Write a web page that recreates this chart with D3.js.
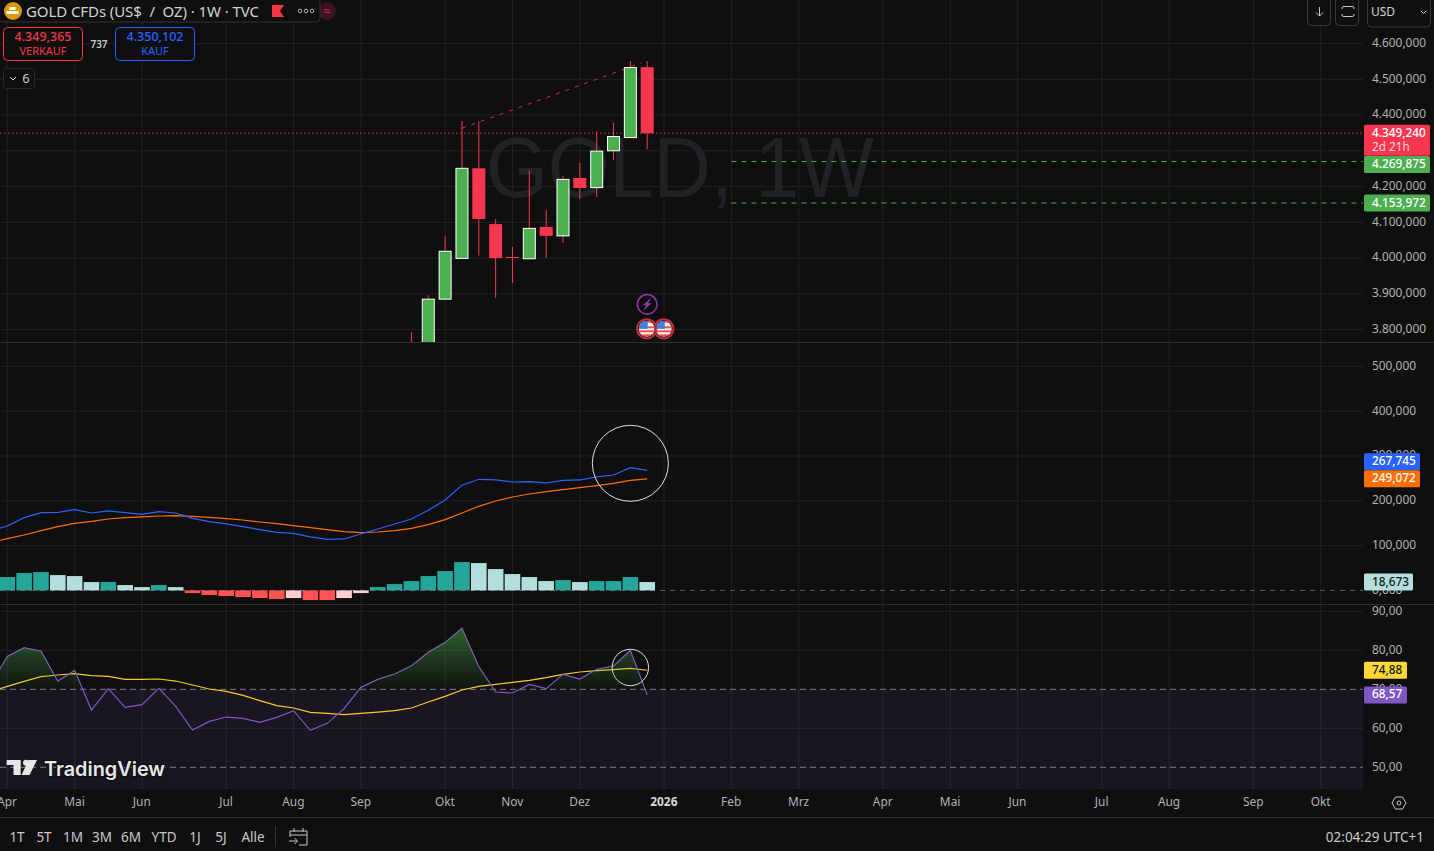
<!DOCTYPE html>
<html>
<head>
<meta charset="utf-8">
<title>GOLD CFDs</title>
<script src="https://cdn.jsdelivr.net/npm/d3@7"></script>
<style>
  html, body { margin:0; padding:0; background:#0f0f0f; overflow:hidden; }
  svg { display:block; }
  text { font-family:"Noto Sans","Open Sans",sans-serif; }
  .axis path, .axis line { display:none; }
  .axis text { fill:#b2b2b2; font-size:11.9px; font-family:"Noto Sans","Open Sans",sans-serif; }
</style>
</head>
<body>
<div id="chart"></div>
<script>
// weekly candles, price in thousands. last candle is index 0, older ones negative
const candleFirstIdx = -14;
const candleOpen  = [3700, 3750, 3885, 3999, 4251, 4095, 4003, 3998, 4087, 4062, 4224, 4197, 4300, 4337, 4534];
const candleHigh  = [3793, 3896, 4062, 4383, 4383, 4109, 4031, 4246, 4134, 4229, 4266, 4355, 4378, 4551, 4551];
const candleLow   = [3650, 3740, 3885, 3999, 4007, 3888, 3930, 3998, 4000, 4042, 4165, 4171, 4274, 4337, 4305];
const candleClose = [3750, 3885, 4019, 4251, 4109, 4000, 4000, 4083, 4062, 4220, 4196, 4299, 4340, 4533, 4349.24];

const trendIdx = [-11, -0.33];
const trendPrice = [4363, 4546];

// MACD pane, index -39..0
const lineFirstIdx = -39;
const macdLine = [132.6, 143.8, 162.4, 173.6, 174.3, 180.3, 172.8, 177.3, 173.6, 169.9, 175.8, 172.8, 160.9, 153.5, 148.3, 142.3, 135.6, 129.7, 127.4, 119.3, 114, 114.8, 126, 137.1, 148.3, 159.4, 178.8, 201.8, 234.6, 248, 246.5, 242, 242.8, 239.8, 245.7, 246.5, 253.2, 257.6, 274, 267.745];
const macdSignal = [107.3, 115.5, 123.7, 133.4, 142.3, 149.8, 154.2, 159.4, 162.4, 163.9, 166.1, 166.9, 165.4, 163.2, 160.2, 157.2, 152.7, 149, 144.6, 140.1, 135.6, 131.2, 128.9, 130.4, 133.4, 138.6, 146.8, 158, 172.8, 187.7, 199.6, 208.5, 215.2, 220.4, 224.9, 229.4, 233.8, 239, 245.7, 249.072];
// histogram, index -38..0
const histFirstIdx = -38;
const macdHist = [29.8, 38.7, 40.9, 34.2, 32, 18.6, 18.6, 11.9, 7.4, 11.9, 7.4, -6, -10.4, -12.6, -14.9, -17.1, -19.3, -17.1, -21.6, -21.6, -17.1, -6, 7.4, 14.1, 20.8, 32, 43.2, 63.2, 61, 47.6, 36.5, 29.8, 20.8, 23, 18.6, 20.8, 20.8, 29.8, 18.673];

// RSI pane, index -39..0
const rsiLine = [71, 78.45, 80.67, 79.82, 72.12, 74.86, 64.69, 70.16, 65.37, 66.06, 70.24, 65.63, 59.56, 61.78, 62.89, 62.55, 61.53, 62.81, 64.52, 59.48, 61.27, 65.03, 70.5, 72.55, 73.92, 76.06, 79.48, 82.04, 85.63, 75.8, 69.3, 69.05, 71.27, 70.16, 73.83, 72.64, 75.12, 75.97, 79.99, 68.57];
const rsiMa = [69.39, 70.76, 72.04, 73.24, 73.66, 74, 73.49, 73.32, 72.55, 72.55, 72.64, 72.12, 71.1, 70.07, 69.48, 68.45, 67.08, 65.8, 65.2, 64.09, 63.83, 63.49, 63.83, 64.17, 64.52, 65.2, 66.74, 68.19, 69.82, 70.76, 71.27, 71.78, 72.3, 72.98, 73.83, 74.43, 74.77, 75.03, 75.37, 74.88];

// axis ticks
const priceTicks = [4600, 4500, 4400, 4300, 4200, 4100, 4000, 3900, 3800];
const macdTicks = [500, 400, 300, 200, 100, 0];
const rsiTicks = [90, 80, 70, 60, 50];
const timeIdx = [-38, -34, -30, -25, -21, -17, -12, -8, -4, 1, 5, 9, 14, 18, 22, 27, 31, 36, 40];
const timeLabels = ['Apr','Mai','Jun','Jul','Aug','Sep','Okt','Nov','Dez','2026','Feb','Mrz','Apr','Mai','Jun','Jul','Aug','Sep','Okt'];
const rangeLabels = ['1T','5T','1M','3M','6M','YTD','1J','5J','Alle'];

const lastPrice = 4349.24;
const supportLevels = [4269.875, 4153.972];
const supportStartIdx = 5;

const W = 1434, H = 851, plotW = 1363;
const GRID = '#212121', RED = '#f7374f', GREEN = '#4caf50', BLUE = '#2962ff';

const de = d3.formatLocale({decimal:',', thousands:'.', grouping:[3], currency:['','']});
const f3 = de.format(',.3f'), f2 = de.format('.2f');

const svg = d3.select('#chart').append('svg').attr('width', W).attr('height', H);
const defs = svg.append('defs');

function clip(id, x, y, w, h) {
  defs.append('clipPath').attr('id', id).append('rect').attr('x',x).attr('y',y).attr('width',w).attr('height',h);
}
clip('mainClip', 0, 0, plotW, 342);
clip('macdClip', 0, 343, plotW, 261);
clip('rsiClip', 0, 605, plotW, 184);
clip('aboveClip', 0, 605, plotW, 84.3);

const grad = defs.append('linearGradient').attr('id','rsiGrad').attr('x1',0).attr('x2',0)
  .attr('gradientUnits','userSpaceOnUse').attr('y1',628).attr('y2',689.3);
grad.append('stop').attr('offset',0).attr('stop-color','#4caf50').attr('stop-opacity',0.5);
grad.append('stop').attr('offset',1).attr('stop-color','#4caf50').attr('stop-opacity',0.02);

// scales
const x = d3.scaleLinear().domain([0, 1]).range([647.2, 664.04]);
const yPrice = d3.scaleLinear().domain([3800, 4500]).range([329.55, 79.3]);
const yMacd = d3.scaleLinear().domain([0, 300]).range([590.4, 456]);
const yRsi = d3.scaleLinear().domain([50, 70]).range([767.3, 689.3]);
const barW = 13, histW = 15.6;

// vertical grid
svg.append('g').selectAll('line').data(timeIdx).enter().append('line')
  .attr('x1', d=>x(d)).attr('x2', d=>x(d)).attr('y1', 0).attr('y2', 789)
  .attr('stroke', GRID);

// horizontal grid
function hgrid(ticks, y, clipId) {
  svg.append('g').attr('clip-path', `url(#${clipId})`).selectAll('line').data(ticks).enter().append('line')
    .attr('x1', 0).attr('x2', plotW).attr('y1', d=>y(d)).attr('y2', d=>y(d))
    .attr('stroke', GRID);
}
hgrid(priceTicks, yPrice, 'mainClip');
hgrid(macdTicks.filter(d=>d), yMacd, 'macdClip');
hgrid(rsiTicks.filter(d=>d!=70 && d!=50), yRsi, 'rsiClip');

// watermark
svg.append('text').attr('x', 486).attr('y', 197)
  .attr('font-size', 86).attr('textLength', 388).attr('lengthAdjust','spacingAndGlyphs')
  .attr('fill', '#212226').style('font-family','"Liberation Sans",sans-serif').text('GOLD, 1W');

// main pane
const main = svg.append('g').attr('clip-path','url(#mainClip)');
const candles = d3.range(candleOpen.length);
main.append('line')
  .attr('x1', 0).attr('x2', plotW).attr('y1', yPrice(lastPrice)).attr('y2', yPrice(lastPrice))
  .attr('stroke', RED).attr('stroke-dasharray','1.5 2.5').attr('opacity',0.9);
main.selectAll('.lvl').data(supportLevels).enter().append('line').attr('class','lvl')
  .attr('x1', x(supportStartIdx)).attr('x2', plotW).attr('y1', d=>yPrice(d)).attr('y2', d=>yPrice(d))
  .attr('stroke', GREEN).attr('stroke-dasharray','5 5');
main.append('line')
  .attr('x1', x(trendIdx[0])).attr('x2', x(trendIdx[1]))
  .attr('y1', yPrice(trendPrice[0])).attr('y2', yPrice(trendPrice[1]))
  .attr('stroke', '#d42d44').attr('stroke-dasharray','4 6');
main.selectAll('.wick').data(candles).enter().append('line').attr('class','wick')
  .attr('x1', i=>x(candleFirstIdx+i)).attr('x2', i=>x(candleFirstIdx+i))
  .attr('y1', i=>yPrice(candleHigh[i])).attr('y2', i=>yPrice(candleLow[i]))
  .attr('stroke', RED);
main.selectAll('.body').data(candles).enter().append('rect').attr('class','body')
  .attr('x', i=>x(candleFirstIdx+i)-barW/2+(candleClose[i]>=candleOpen[i]?0.5:0))
  .attr('width', i=>candleClose[i]>=candleOpen[i]?barW-1:barW)
  .attr('y', i=>yPrice(Math.max(candleOpen[i],candleClose[i])))
  .attr('height', i=>Math.max(1, Math.abs(yPrice(candleOpen[i])-yPrice(candleClose[i]))))
  .attr('fill', i=>candleClose[i]>=candleOpen[i]?GREEN:RED)
  .attr('stroke', i=>candleClose[i]>=candleOpen[i]?'#fff':'none');

// MACD pane
const macd = svg.append('g').attr('clip-path','url(#macdClip)');
macd.append('line').attr('x1',0).attr('x2',plotW).attr('y1',yMacd(0)).attr('y2',yMacd(0))
  .attr('stroke','#5d606b').attr('stroke-dasharray','5 5');
macd.selectAll('.hist').data(macdHist).enter().append('rect').attr('class','hist')
  .attr('x', (d,i)=>x(histFirstIdx+i)-histW/2)
  .attr('width', histW)
  .attr('y', d=>yMacd(Math.max(d,0)))
  .attr('height', d=>Math.abs(yMacd(d)-yMacd(0)))
  .attr('fill', (d,i)=>{
    const prev = i ? macdHist[i-1] : d;
    if (d >= 0) return d >= prev ? '#26a69a' : '#b2dfdb';
    return d <= prev ? '#ff5252' : '#ffcdd2';
  });
const macdPath = d3.line().x((d,i)=>x(lineFirstIdx+i)).y(d=>yMacd(d));
macd.append('path').attr('d', macdPath(macdSignal)).attr('fill','none').attr('stroke','#ff6d00').attr('stroke-width',1.2);
macd.append('path').attr('d', macdPath(macdLine)).attr('fill','none').attr('stroke',BLUE).attr('stroke-width',1.2);
macd.append('circle').attr('cx',x(-1)).attr('cy',yMacd(283.7)).attr('r',38)
  .attr('fill','none').attr('stroke','#e0e0e0').attr('stroke-width',1);

// RSI pane
const rsi = svg.append('g').attr('clip-path','url(#rsiClip)');
rsi.append('rect').attr('x',0).attr('width',plotW).attr('y',yRsi(70)).attr('height',yRsi(30)-yRsi(70))
  .attr('fill','#7e57c2').attr('opacity',0.1);
rsi.selectAll('.band').data([70,50]).enter().append('line').attr('class','band')
  .attr('x1',0).attr('x2',plotW).attr('y1',d=>yRsi(d)).attr('y2',d=>yRsi(d))
  .attr('stroke','#787b86').attr('stroke-dasharray','6 4');
const rsiArea = d3.area().x((d,i)=>x(lineFirstIdx+i)).y0(yRsi(70)).y1(d=>yRsi(d));
svg.append('path').attr('clip-path','url(#aboveClip)').attr('d', rsiArea(rsiLine)).attr('fill','url(#rsiGrad)');
const rsiPath = d3.line().x((d,i)=>x(lineFirstIdx+i)).y(d=>yRsi(d));
rsi.append('path').attr('d', rsiPath(rsiMa)).attr('fill','none').attr('stroke','#f9c825').attr('stroke-width',1.2);
rsi.append('path').attr('d', rsiPath(rsiLine)).attr('fill','none').attr('stroke','#7e57c2').attr('stroke-width',1.2);
rsi.append('circle').attr('cx',x(-1)).attr('cy',yRsi(75.6)).attr('r',18.2)
  .attr('fill','none').attr('stroke','#e0e0e0').attr('stroke-width',1);

// pane separators
[342.5, 604.5, 817.5].forEach(yy=>{
  svg.append('line').attr('x1',0).attr('x2',W).attr('y1',yy).attr('y2',yy).attr('stroke','#2e2e2e');
});

// axes
function priceAxis(y, ticks, fmt) {
  return svg.append('g').attr('class','axis').attr('transform',`translate(${plotW},-1)`)
    .call(d3.axisRight(y).tickValues(ticks).tickFormat(fmt).tickSize(0).tickPadding(9));
}
priceAxis(yPrice, priceTicks, f3);
priceAxis(yMacd, macdTicks, f3);
priceAxis(yRsi, rsiTicks, f2);
const tAxis = svg.append('g').attr('class','axis').attr('transform','translate(-0.7,789)')
  .call(d3.axisBottom(x).tickValues(timeIdx).tickFormat((d,i)=>timeLabels[i]).tickSize(0).tickPadding(9));
tAxis.selectAll('text').filter(d=>d===1).attr('font-weight','bold').style('fill','#d8d8d8');

// value tags on the right
function tag(cy, w, fill, txt, txtColor) {
  svg.append('rect').attr('x',1364).attr('y',cy-8.5).attr('width',w).attr('height',17).attr('rx',1.5).attr('fill',fill);
  svg.append('text').attr('x',1372).attr('y',cy+3.6).attr('font-size',11.8).attr('font-weight',500).attr('fill',txtColor).text(txt);
}
svg.append('rect').attr('x',1364).attr('y',yPrice(lastPrice)-8.5).attr('width',66).attr('height',31).attr('rx',1.5).attr('fill',RED);
svg.append('text').attr('x',1372).attr('y',yPrice(lastPrice)+3.6).attr('font-size',11.8).attr('font-weight',500).attr('fill','#fff').text(f3(lastPrice));
svg.append('text').attr('x',1372).attr('y',yPrice(lastPrice)+17.5).attr('font-size',11.8).attr('fill','#ffd5da').text('2d 21h');
tag(yPrice(supportLevels[0])+3, 66, GREEN, f3(supportLevels[0]), '#fff');
tag(yPrice(supportLevels[1]), 66, GREEN, f3(supportLevels[1]), '#fff');
tag(yMacd(macdLine[39])-8.7, 56, BLUE, f3(macdLine[39]), '#fff');
tag(yMacd(macdSignal[39]), 56, '#ff6d00', f3(macdSignal[39]), '#fff');
tag(yMacd(macdHist[38]), 49, '#b2dfdb', f3(macdHist[38]), '#131722');
tag(yRsi(rsiMa[39]), 43, '#fdd835', f2(rsiMa[39]), '#131722');
tag(yRsi(rsiLine[39]), 43, '#7e57c2', f2(rsiLine[39]), '#fff');

// event markers
function flag(cx, cy) {
  const g = svg.append('g').attr('transform',`translate(${cx},${cy})`);
  const id = 'flag'+Math.round(cx);
  defs.append('clipPath').attr('id',id).append('circle').attr('r',8);
  g.append('circle').attr('r',9.6).attr('fill','#0f0f0f').attr('stroke','#c92c3c').attr('stroke-width',2);
  const f = g.append('g').attr('clip-path',`url(#${id})`);
  f.append('rect').attr('x',-8).attr('y',-8).attr('width',16).attr('height',16).attr('fill','#f4f4f4');
  [-2.5,1.5,5.5].forEach(s=>f.append('rect').attr('x',-8).attr('y',s).attr('width',16).attr('height',2).attr('fill','#ef5350'));
  f.append('rect').attr('x',-8).attr('y',-8).attr('width',16).attr('height',2).attr('fill','#ef5350');
  f.append('rect').attr('x',-8).attr('y',-8).attr('width',9).attr('height',8).attr('fill','#3d7fe0');
}
const bolt = svg.append('g').attr('transform',`translate(${x(0)},304.3)`);
bolt.append('circle').attr('r',9.8).attr('fill','#0f0f0f').attr('stroke','#8e35a8').attr('stroke-width',1.6);
bolt.append('path').attr('d','M4,-6.5 L-4.5,1 L-1,1 L-4,6.5 L4.5,-1 L1,-1 Z').attr('fill','#8e35a8');
flag(663.8, 328.8);
flag(646.7, 328.8);

// legend bar, top left
svg.append('circle').attr('cx',327).attr('cy',11).attr('r',9).attr('fill','#3a1422');
svg.append('text').attr('x',327).attr('y',16).attr('text-anchor','middle').attr('font-size',14).attr('fill','#d81b60').text('≈');
svg.append('rect').attr('x',-2).attr('y',-2).attr('width',322).attr('height',24).attr('rx',4)
  .attr('fill','#0f0f0f').attr('stroke','#333');
svg.append('circle').attr('cx',13).attr('cy',11).attr('r',9).attr('fill','#d99a00');
[[9.5,7,5],[6.5,11,5],[12.5,11,5]].forEach(b=>{
  svg.append('rect').attr('x',b[0]).attr('y',b[1]).attr('width',b[2]+1).attr('height',3).attr('fill','#fff');
});
svg.append('text').attr('x',26).attr('y',17).attr('font-size',15).attr('textLength',233).attr('lengthAdjust','spacing')
  .attr('fill','#d1d1d1').text('GOLD CFDs (US$\u00a0 /\u00a0 OZ) · 1W · TVC');
svg.append('path').attr('d','M272,5 H284 L280,11 L284,17 H272 Z').attr('fill','#f23645');
[300,306,312].forEach(cx=>svg.append('circle').attr('cx',cx).attr('cy',11).attr('r',1.8).attr('fill','none').attr('stroke','#b2b2b2'));

// buy and sell boxes
function tradeBox(bx, color, price, label) {
  svg.append('rect').attr('x',bx+0.5).attr('y',27.5).attr('width',79).attr('height',33).attr('rx',4)
    .attr('fill','#0f0f0f').attr('stroke',color);
  svg.append('text').attr('x',bx+40).attr('y',41).attr('text-anchor','middle').attr('font-size',12.5).attr('font-weight',500).attr('fill',color).text(price);
  svg.append('text').attr('x',bx+40).attr('y',55).attr('text-anchor','middle').attr('font-size',11).attr('fill',color).text(label);
}
tradeBox(3, RED, '4.349,365', 'VERKAUF');
svg.append('text').attr('x',99).attr('y',48).attr('text-anchor','middle').attr('font-size',10).attr('font-weight',600).attr('fill','#c8c8c8').text('737');
tradeBox(115, BLUE, '4.350,102', 'KAUF');
svg.append('rect').attr('x',3.5).attr('y',68.5).attr('width',31).attr('height',20).attr('rx',3).attr('fill','#0f0f0f').attr('stroke','#2a2a2a');
svg.append('path').attr('d','M10,77 L13,80 L16,77').attr('fill','none').attr('stroke','#c8c8c8');
svg.append('text').attr('x',26).attr('y',83).attr('text-anchor','middle').attr('font-size',13).attr('fill','#c8c8c8').text('6');

// top right buttons
function topBtn(bx, w, h) {
  svg.append('rect').attr('x',bx).attr('y',-3).attr('width',w).attr('height',h+3).attr('rx',4).attr('fill','#0f0f0f').attr('stroke','#3a3a3a');
}
topBtn(1307.5, 23, 25.5);
svg.append('path').attr('d','M1319.5,7 V16 M1316,12.5 L1319.5,16 L1323,12.5').attr('fill','none').attr('stroke','#c8c8c8');
topBtn(1335.5, 23, 25.5);
svg.append('path').attr('d','M1342,9 V8 Q1342,6.5 1344,6.5 H1352 Q1354,6.5 1354,8 V9 M1342,14 V15 Q1342,16.5 1344,16.5 H1352 Q1354,16.5 1354,15 V14').attr('fill','none').attr('stroke','#c8c8c8');
topBtn(1367.5, 63, 27);
svg.append('text').attr('x',1371).attr('y',16).attr('font-size',12).attr('fill','#d1d4dc').text('USD');
svg.append('path').attr('d','M1421,11 L1423.5,13.5 L1426,11').attr('fill','none').attr('stroke','#c8c8c8');

// TradingView logo
const logo = svg.append('g').attr('fill','#e6e6e6');
logo.append('path').attr('d','M6.7,760 H20.7 V775 H13.5 V765 H6.7 Z');
logo.append('circle').attr('cx',26).attr('cy',762.8).attr('r',3);
logo.append('path').attr('d','M28.5,760 H37 L29.5,775 H21.5 Z');
svg.append('text').attr('x',44).attr('y',775.5).attr('font-size',20).attr('font-weight',600)
  .attr('textLength',121).attr('lengthAdjust','spacingAndGlyphs')
  .attr('fill','#e6e6e6').attr('stroke','#0f0f0f').attr('stroke-width',2.5).attr('paint-order','stroke')
  .style('font-family','Inter,"Noto Sans",sans-serif').text('TradingView');

// settings hex
svg.append('path').attr('d','M1392,803 L1395.5,797 H1402.5 L1406,803 L1402.5,809 H1395.5 Z').attr('fill','none').attr('stroke','#c8c8c8');
svg.append('circle').attr('cx',1399).attr('cy',803).attr('r',2).attr('fill','none').attr('stroke','#c8c8c8');

// bottom toolbar
const rangeX = d3.scaleOrdinal().domain(rangeLabels).range([17,44,73,102,131,164,195,221,253]);
svg.append('g').selectAll('text').data(rangeLabels).enter().append('text')
  .attr('x', d=>rangeX(d)).attr('y', 842).attr('text-anchor','middle').attr('font-size',13.5).attr('fill','#c8c8c8').text(d=>d);
svg.append('line').attr('x1',275.5).attr('x2',275.5).attr('y1',826).attr('y2',847).attr('stroke','#333');
svg.append('path').attr('d','M290,831 H307 V845 H299 M290,831 V837 M290,835 H307 M294,828 V832 M303,828 V832 M289,841 H297 M294.5,838 L297.5,841 L294.5,844')
  .attr('fill','none').attr('stroke','#c8c8c8');
svg.append('text').attr('x',1424).attr('y',842).attr('text-anchor','end').attr('font-size',13.5).attr('fill','#c8c8c8').text('02:04:29 UTC+1');
</script>
</body>
</html>
